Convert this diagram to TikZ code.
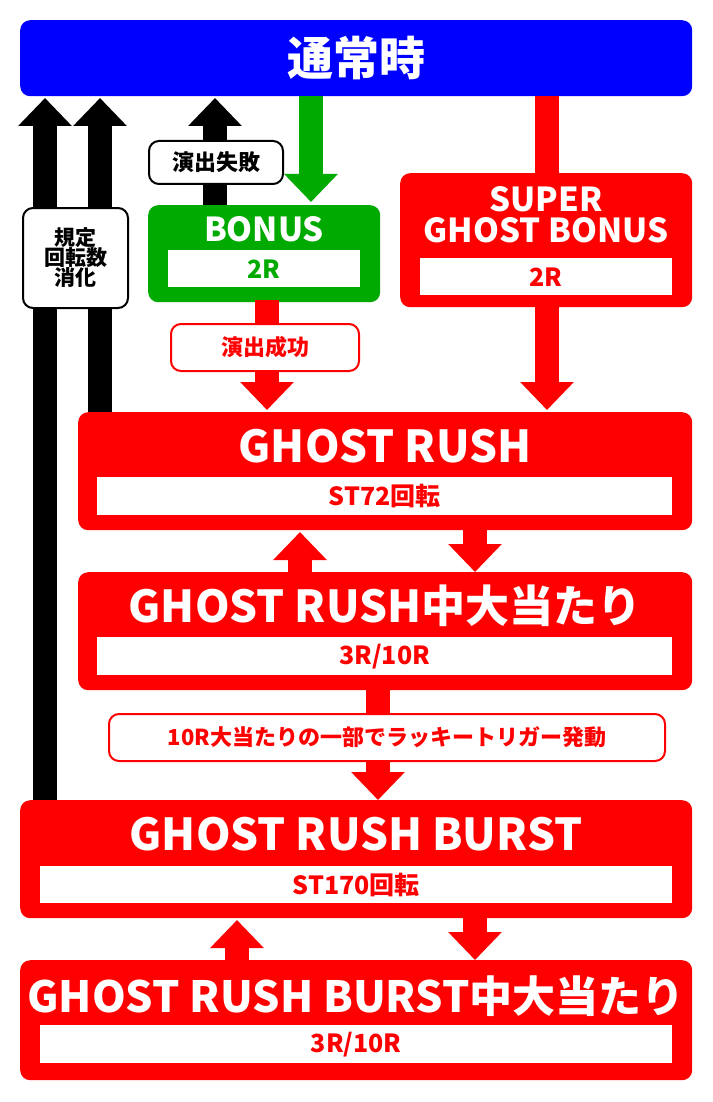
\documentclass[tikz,border=0pt]{standalone}
\usepackage{fontspec}
\setmainfont{Noto Sans CJK JP}[BoldFont={* Black}]
\usetikzlibrary{arrows.meta}
\definecolor{rd}{RGB}{255,0,0}
\definecolor{bl}{RGB}{0,0,255}
\definecolor{gr}{RGB}{0,170,0}
\tikzset{
 box/.style={rounded corners=10pt, inner sep=0pt, anchor=north west},
 inbox/.style={fill=white, inner sep=0pt, anchor=north west, font=\bfseries\fontsize{25}{26}\selectfont},
 tag/.style={fill=white, draw, line width=2pt, rounded corners=10pt, inner sep=0pt, anchor=north west, font=\bfseries\fontsize{22}{24}\selectfont, align=center},
 title/.style={text=white, font=\bfseries\fontsize{44}{46}\selectfont},
 arr/.style={line width=24pt, -{Triangle[width=52pt,length=28pt]}},
}
\begin{document}
\begin{tikzpicture}[x=1pt,y=-1pt]
\useasboundingbox (0,0) rectangle (712,1102);
\draw[arr,black] (45,805) -- (45,98);
\draw[arr,black] (100,415) -- (100,98);
\draw[arr,black] (215,210) -- (215,98);
\node[box,fill=bl,minimum width=672,minimum height=76] (top) at (20,20) {};
\node[title,font=\bfseries\fontsize{46}{48}\selectfont] at (top.center) {通常時};
\node[tag,minimum width=105,minimum height=100,font=\bfseries\fontsize{21}{23}\selectfont] (kitei) at (22,207) {規定\\[-3pt]回転数\\[-3pt]消化};
\node[tag,minimum width=134,minimum height=43] (fail) at (148,140) {演出失敗};
\draw[arr,gr] (311,96) -- (311,202);
\node[box,fill=gr,minimum width=232,minimum height=97] (bonus) at (148,205) {};
\node[text=white,font=\bfseries\fontsize{33}{35}\selectfont] at (264,229) {BONUS};
\node[inbox,text=gr,minimum width=192,minimum height=37] at (168,250) {2R};
\draw[line width=24pt,rd] (547,96) -- (547,180);
\node[box,fill=rd,minimum width=292,minimum height=134] (sgb) at (400,173) {};
\node[text=white,font=\bfseries\fontsize{33}{33}\selectfont,align=center] at (546,215) {SUPER\\[-2pt]GHOST BONUS};
\node[inbox,text=rd,minimum width=252,minimum height=37] at (420,258) {2R};
\draw[arr,rd] (267,300) -- (267,410);
\node[tag,draw=rd,text=rd,minimum width=188,minimum height=47] (succ) at (170,323) {演出成功};
\draw[arr,rd] (547,300) -- (547,410);
\node[box,fill=rd,minimum width=614,minimum height=118] (gr1) at (78,412) {};
\node[title] at (385,446) {GHOST RUSH};
\node[inbox,text=rd,minimum width=575,minimum height=38] at (97,477) {ST72回転};
\draw[arr,rd] (300,575) -- (300,532);
\draw[arr,rd] (475,528) -- (475,572);
\node[box,fill=rd,minimum width=614,minimum height=118] (gr2) at (78,572) {};
\node[title] at (385,606) {GHOST RUSH中大当たり};
\node[inbox,text=rd,minimum width=575,minimum height=38] at (97,637) {3R/10R};
\draw[arr,rd] (378,688) -- (378,800);
\node[tag,draw=rd,text=rd,minimum width=556,minimum height=47] (lt) at (108,713) {10R大当たりの一部でラッキートリガー発動};
\node[box,fill=rd,minimum width=672,minimum height=118] (b1) at (20,800) {};
\node[title] at (356,834) {GHOST RUSH BURST};
\node[inbox,text=rd,minimum width=632,minimum height=37] at (40,866) {ST170回転};
\draw[arr,rd] (237,963) -- (237,920);
\draw[arr,rd] (475,916) -- (475,960);
\node[box,fill=rd,minimum width=672,minimum height=120] (b2) at (20,960) {};
\node[title,font=\bfseries\fontsize{43}{45}\selectfont] at (356,996) {GHOST RUSH BURST中大当たり};
\node[inbox,text=rd,minimum width=632,minimum height=38] at (40,1025) {3R/10R};
\end{tikzpicture}
\end{document}
